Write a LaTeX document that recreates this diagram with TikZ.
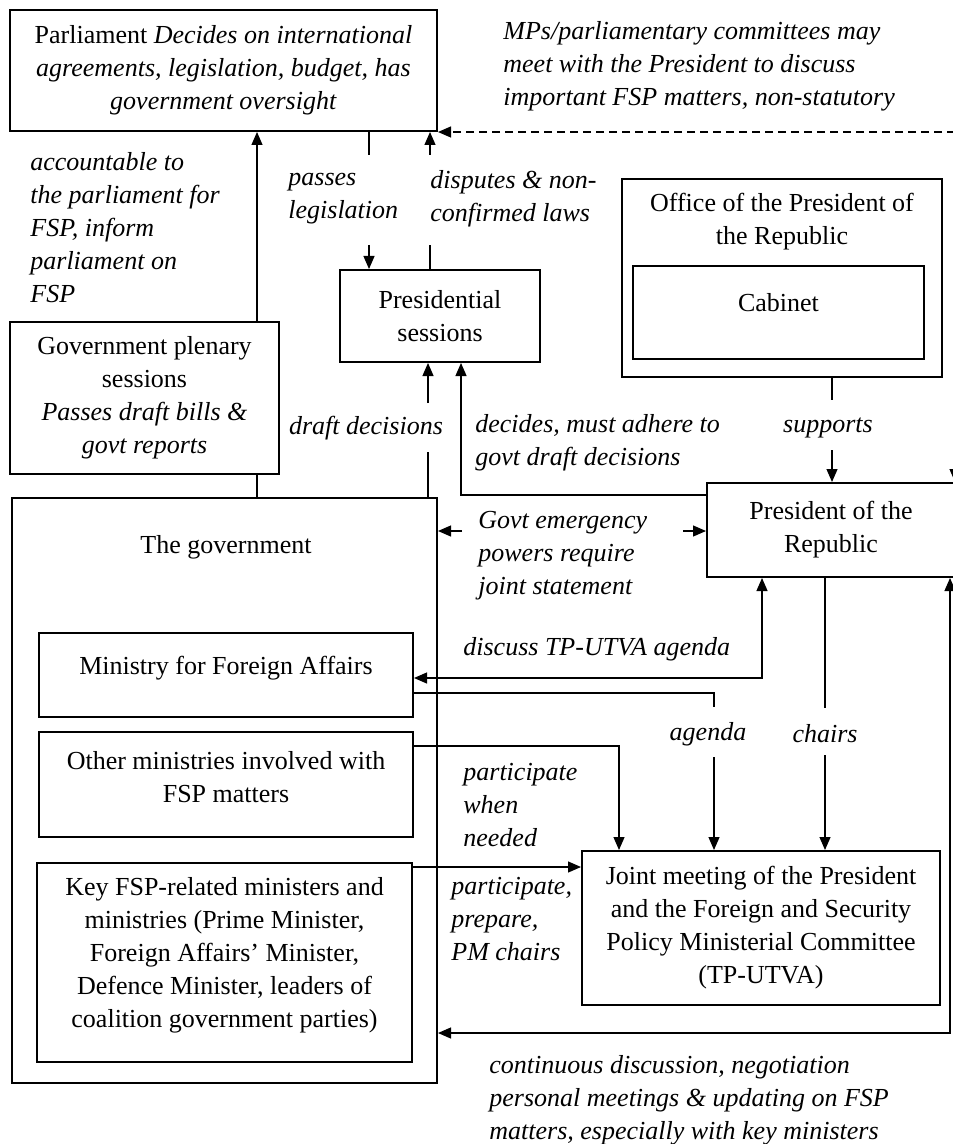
\documentclass[tikz,border=0pt]{standalone}
\usepackage{fontspec}
\setmainfont{Liberation Serif}
\usetikzlibrary{arrows.meta}
\newcommand\diagfont{\fontsize{13}{16.5}\selectfont}
\tikzset{
  box/.style={draw, line width=1pt, inner sep=0pt, align=center, font=\diagfont},
  plain/.style={inner sep=0pt, align=center, font=\diagfont},
  lbl/.style={inner sep=0pt, align=left, font=\diagfont\itshape},
  conn/.style={line width=0.6pt},
  arr/.style={conn, -{Triangle[length=6.5pt,width=5.5pt]}},
  darr/.style={conn, {Triangle[length=6.5pt,width=5.5pt]}-{Triangle[length=6.5pt,width=5.5pt]}},
}
\begin{document}
\begin{tikzpicture}[x=0.5pt, y=-0.5pt]
\useasboundingbox (0,0) rectangle (952,1144);

% ---------- boxes ----------
\node[box, minimum width=213.5pt, minimum height=60.5pt] (parl) at (223.5,70.5)
  {Parliament \textit{Decides on international}\\\textit{agreements, legislation, budget, has}\\\textit{government oversight}};
\node[box, minimum width=100pt, minimum height=46pt] (psess) at (440,316) {Presidential\\sessions};
\node[box, minimum width=160pt, minimum height=99pt] (office) at (782,278) {};
\node[plain] (officeT) at (782,221.5) {Office of the President of\\the Republic};
\node[box, minimum width=145.5pt, minimum height=46.5pt, text depth=10pt] (cab) at (778.5,312.5) {Cabinet};
\node[box, minimum width=134.5pt, minimum height=76pt] (gps) at (144.5,398)
  {Government plenary\\sessions\\\textit{Passes draft bills \&}\\\textit{govt reports}};
\node[box, minimum width=212.5pt, minimum height=292.5pt] (gov) at (224.5,790.5) {};
\node[plain] (govT) at (226,547) {The government};
\node[box, minimum width=187pt, minimum height=42pt, text depth=10pt] (mfa) at (226,675) {Ministry for Foreign Affairs};
\node[box, minimum width=187pt, minimum height=52.5pt, text depth=8pt] (oth) at (226,784.5)
  {Other ministries involved with\\FSP matters};
\node[box, minimum width=187.5pt, minimum height=99.5pt, text depth=10.5pt] (key) at (224.5,962.5)
  {Key FSP-related ministers and\\ministries (Prime Minister,\\Foreign Affairs’ Minister,\\Defence Minister, leaders of\\coalition government parties)};
\node[box, minimum width=124pt, minimum height=47pt] (pres) at (831,530) {President of the\\Republic};
\node[box, minimum width=179pt, minimum height=77pt] (joint) at (761,928)
  {Joint meeting of the President\\and the Foreign and Security\\Policy Ministerial Committee\\(TP-UTVA)};

% ---------- labels ----------
\node[lbl, anchor=west] (mps) at (503,66)
  {MPs/parliamentary committees may\\meet with the President to discuss\\important FSP matters, non-statutory};
\node[lbl, anchor=west] (acc) at (30,228) {accountable to\\the parliament for\\FSP, inform\\parliament on\\FSP};
\node[lbl, anchor=west] (passes) at (288,199) {passes\\legislation};
\node[lbl, anchor=west] (disp) at (430,199) {disputes \& non-\\confirmed laws};
\node[lbl] (draft) at (366,428) {draft decisions};
\node[lbl, anchor=west] (decides) at (475,443) {decides, must adhere to\\govt draft decisions};
\node[lbl] (supp) at (828,428) {supports};
\node[lbl, anchor=west] (emerg) at (478,556) {Govt emergency\\powers require\\joint statement};
\node[lbl, anchor=west] (disc) at (463,649) {discuss TP-UTVA agenda};
\node[lbl] (agenda) at (708,734) {agenda};
\node[lbl] (chairs) at (825,734) {chairs};
\node[lbl, anchor=west] (pwn) at (463,805) {participate\\when\\needed};
\node[lbl, anchor=west] (ppp) at (451,919) {participate,\\prepare,\\PM chairs};
\node[lbl, anchor=west] (cont) at (489,1100)
  {continuous discussion, negotiation\\personal meetings \& updating on FSP\\matters, especially with key ministers};

% ---------- connector bend and gap points ----------
\coordinate (xacc) at (257,0);
\coordinate (pl1) at (369,155);  \coordinate (pl2) at (369,245);
\coordinate (dl1) at (430,245);  \coordinate (dl2) at (430,155);
\coordinate (dd1) at (428,452);  \coordinate (dd2) at (428,403);
\coordinate (dc)  at (461,495);
\coordinate (em1) at (462,531);  \coordinate (em2) at (683,531);
\coordinate (su1) at (832,400);  \coordinate (su2) at (832,450);
\coordinate (di)  at (762,678);
\coordinate (ag1) at (714,693);  \coordinate (ag2) at (714,707);  \coordinate (ag3) at (714,757);
\coordinate (pw)  at (619,746);
\coordinate (kp)  at (0,867);
\coordinate (ch1) at (825,708);  \coordinate (ch2) at (825,755);
\coordinate (cd)  at (950,1033);
\coordinate (mp)  at (955,0);

% ---------- connectors ----------
\draw[conn] (gov.north -| xacc) -- (gps.south -| xacc);
\draw[arr]  (gps.north -| xacc) -- (parl.south -| xacc);

\draw[conn] (parl.south -| pl1) -- (pl1);
\draw[arr]  (pl2) -- (psess.north -| pl2);

\draw[conn] (psess.north -| dl1) -- (dl1);
\draw[arr]  (dl2) -- (parl.south -| dl2);

\draw[conn] (gov.north -| dd1) -- (dd1);
\draw[arr]  (dd2) -- (psess.south -| dd2);

\draw[arr]  (pres.west |- dc) -- (dc) -- (psess.south -| dc);

\draw[arr]  (em1) -- (gov.east |- em1);
\draw[arr]  (em2) -- (pres.west |- em2);

\draw[conn] (office.south -| su1) -- (su1);
\draw[arr]  (su2) -- (pres.north -| su2);

\draw[darr] (pres.south -| di) -- (di) -- (mfa.east |- di);

\draw[conn] (mfa.east |- ag1) -- (ag1) -- (ag2);
\draw[arr]  (ag3) -- (joint.north -| ag3);

\draw[arr]  (oth.east |- pw) -- (pw) -- (joint.north -| pw);

\draw[arr]  (key.east |- kp) -- (joint.west |- kp);

\draw[conn] (pres.south -| ch1) -- (ch1);
\draw[arr]  (ch2) -- (joint.north -| ch2);

\draw[darr] (pres.south -| cd) -- (cd) -- (gov.east |- cd);

\draw[arr, dash pattern=on 4pt off 2.5pt] (parl.south east -| mp) -- (parl.south east);
\draw[arr, dash pattern=on 4pt off 2.5pt] (parl.south east -| mp) -- (pres.north -| mp);
\end{tikzpicture}
\end{document}
